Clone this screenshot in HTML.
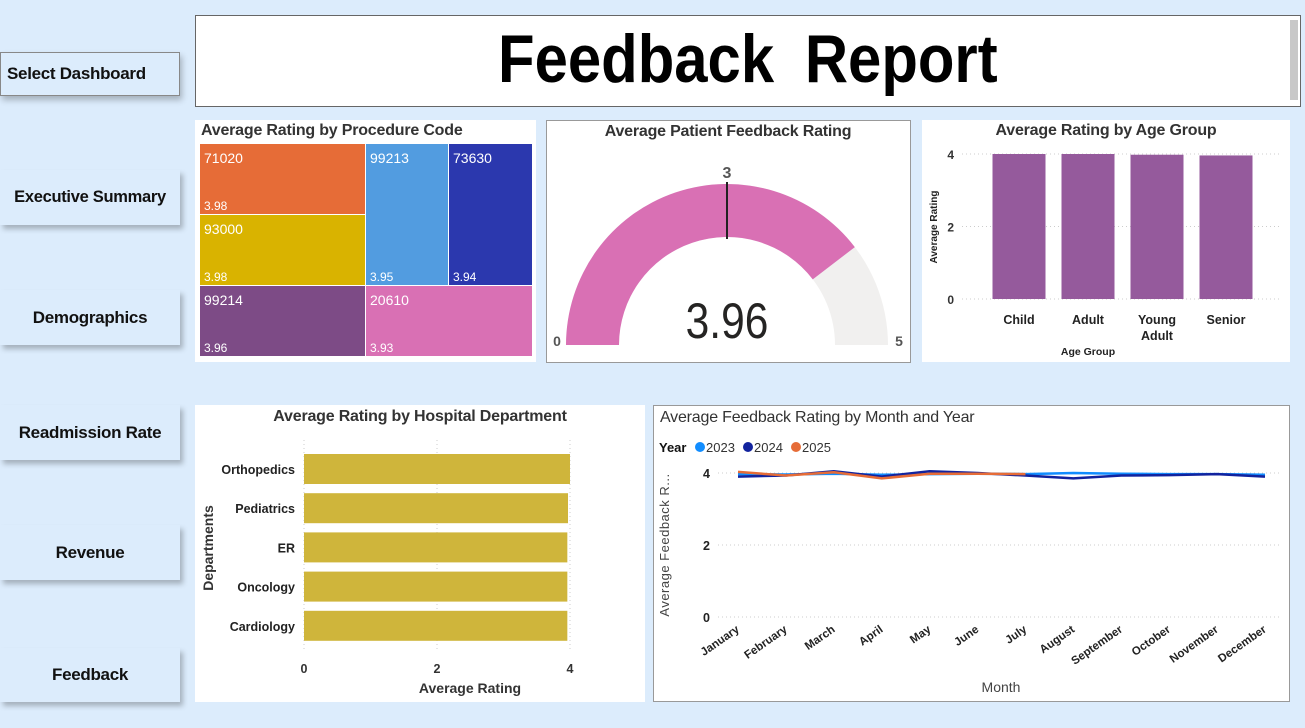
<!DOCTYPE html>
<html><head><meta charset="utf-8">
<style>
*{box-sizing:border-box;margin:0;padding:0}
body{width:1305px;height:728px;background:#dcecfc;font-family:"Liberation Sans",sans-serif;position:relative;overflow:hidden;color:#252423}
.nav{position:absolute;left:0;width:180px;background:#dcecfc;display:flex;align-items:center;justify-content:center;font-weight:bold;font-size:17px;color:#111;box-shadow:3px 4px 5px rgba(0,0,0,0.25);letter-spacing:-0.3px}
.panel{position:absolute;background:#fff}
.ttl{position:absolute;font-size:16px;font-weight:bold;color:#333;letter-spacing:-0.2px}
svg{position:absolute;left:0;top:0}
</style></head><body>
<div class="nav" style="top:52px;height:44px;border:1.5px solid #888;justify-content:flex-start;padding-left:6px;box-shadow:2px 4px 6px rgba(0,0,0,0.25)">Select Dashboard</div>
<div class="nav" style="top:170px;height:55px;font-size:16.5px">Executive Summary</div>
<div class="nav" style="top:290px;height:55px">Demographics</div>
<div class="nav" style="top:405px;height:55px">Readmission Rate</div>
<div class="nav" style="top:525px;height:55px">Revenue</div>
<div class="nav" style="top:648px;height:54px">Feedback</div>

<div class="panel" style="left:195px;top:15px;width:1106px;height:92px;border:1.5px solid #666;display:flex;align-items:center;justify-content:center;color:#000">
<span style="font-weight:bold;font-size:68px;word-spacing:16px;transform:scaleX(0.88);display:inline-block;margin-top:-4px">Feedback Report</span>
<div style="position:absolute;right:2px;top:4px;width:8px;height:80px;background:#c8c8c8"></div></div>

<div class="panel" style="left:195px;top:120px;width:341px;height:242px">
<div class="ttl" style="left:6px;top:2px">Average Rating by Procedure Code</div></div>
<div class="panel" style="left:546px;top:120px;width:365px;height:243px;border:1.5px solid #999">
<div class="ttl" style="left:0;width:362px;text-align:center;top:2px">Average Patient Feedback Rating</div></div>
<div class="panel" style="left:922px;top:120px;width:368px;height:242px">
<div class="ttl" style="left:0;width:368px;text-align:center;top:2px">Average Rating by Age Group</div></div>
<div class="panel" style="left:195px;top:405px;width:450px;height:297px">
<div class="ttl" style="left:0;width:450px;text-align:center;top:3px">Average Rating by Hospital Department</div></div>
<div class="panel" style="left:653px;top:405px;width:637px;height:297px;border:1.5px solid #999">
<div class="ttl" style="left:6px;top:3px;font-weight:normal;font-size:16px">Average Feedback Rating by Month and Year</div></div>

<svg id="s" width="1305" height="728" font-family="Liberation Sans, sans-serif"></svg>
<script>
// Treemap data
const tmCodes=["71020","93000","99213","73630","99214","20610"];
const tmValues=[3.98,3.98,3.95,3.94,3.96,3.93];
const tmColors=["#e66c37","#d9b300","#529ce0","#2b38ae","#7d4b86","#d970b4"];
// Gauge data
const gaugeValue=3.96, gaugeMin=0, gaugeMax=5, gaugeTarget=2.5;
// Age group data
const ageCats=["Child","Adult","Young Adult","Senior"];
const ageValues=[4.0,4.0,3.98,3.96];
const ageTicks=[0,2,4];
// Department data
const deptCats=["Orthopedics","Pediatrics","ER","Oncology","Cardiology"];
const deptValues=[4.0,3.97,3.96,3.96,3.96];
const deptTicks=[0,2,4];
// Line data
const months=["January","February","March","April","May","June","July","August","September","October","November","December"];
const y2023=[3.97,3.96,3.98,3.95,3.97,3.98,3.97,4.0,3.98,3.97,3.97,3.95];
const y2024=[3.9,3.93,4.05,3.9,4.05,4.0,3.93,3.85,3.93,3.94,3.97,3.9];
const y2025=[4.03,3.93,4.02,3.85,3.98,3.98,3.97];
const lineTicks=[0,2,4];

const S=document.getElementById('s');const NS="http://www.w3.org/2000/svg";
function mk(t,a,txt){const e=document.createElementNS(NS,t);for(const k in a)e.setAttribute(k,a[k]);if(txt!==undefined)e.textContent=txt;S.appendChild(e);return e;}

const tmRects=[[200,144,165,70],[200,215,165,70],[366,144,82,141],[449,144,83,141],[200,286,165,70],[366,286,166,70]];
tmCodes.forEach((c,i)=>{const r=tmRects[i];
 let e=mk('rect',{x:r[0],y:r[1],width:r[2],height:r[3],fill:tmColors[i]});
 
 e=mk('text',{x:r[0]+4,y:r[1]+19,fill:'#fff','font-size':14},c);
 
 e=mk('text',{x:r[0]+4,y:r[1]+r[3]-4,fill:'#fff','font-size':12},tmValues[i].toFixed(2));
 
});

const gcx=727,gcy=345,gR=161,gr=108;
function gp(v,R){const a=Math.PI*(1-(v-gaugeMin)/(gaugeMax-gaugeMin));return [gcx+R*Math.cos(a),gcy-R*Math.sin(a)];}
function arc(v0,v1,col,nm){const a=gp(v0,gR),b=gp(v1,gR),c=gp(v1,gr),d=gp(v0,gr);
 const e=mk('path',{d:`M${a[0]},${a[1]} A${gR},${gR} 0 0 1 ${b[0]},${b[1]} L${c[0]},${c[1]} A${gr},${gr} 0 0 0 ${d[0]},${d[1]} Z`,fill:col});
 }
arc(gaugeMin,gaugeMax,'#f1f0ef','gauge-track');arc(gaugeMin,gaugeValue,'#d970b4','gauge-fill');
let t1=gp(gaugeTarget,gR+2),t2=gp(gaugeTarget,gr-2);
let e=mk('line',{x1:t1[0],y1:t1[1],x2:t2[0],y2:t2[1],stroke:'#222','stroke-width':2});
e=mk('text',{x:t1[0],y:t1[1]-4,'text-anchor':'middle','font-size':16,'font-weight':'bold',fill:'#555'},'3');
e=mk('text',{x:gcx,y:gcy-7,'text-anchor':'middle','font-size':50,fill:'#252423',transform:`translate(${gcx},0) scale(0.85,1) translate(${-gcx},0)`},gaugeValue.toFixed(2));
e=mk('text',{x:557,y:346,'text-anchor':'middle','font-size':14,'font-weight':'bold',fill:'#555'},String(gaugeMin));
e=mk('text',{x:899,y:346,'text-anchor':'middle','font-size':14,'font-weight':'bold',fill:'#555'},String(gaugeMax));

const ay=v=>299-v*(299-154)/4;
ageTicks.forEach(t=>{let e=mk('line',{x1:962,x2:1282,y1:ay(t),y2:ay(t),stroke:'#ccc','stroke-dasharray':'1,3'});
 e=mk('text',{x:954,y:ay(t)+5,'text-anchor':'end','font-size':12,'font-weight':'bold',fill:'#333'},String(t));});
ageCats.forEach((c,i)=>{const cx=1019+i*69;
 let e=mk('rect',{x:cx-26.5,y:ay(ageValues[i]),width:53,height:ay(0)-ay(ageValues[i]),fill:'#955a9c'});
 const parts=c.split(' ');parts.forEach((p,j)=>{let t=mk('text',{x:cx,y:324+j*16,'text-anchor':'middle','font-size':12.5,'font-weight':'bold',fill:'#222'},p);});});
e=mk('text',{x:1088,y:355,'text-anchor':'middle','font-size':10.5,'font-weight':'bold',fill:'#222'},'Age Group');
e=mk('text',{x:0,y:0,transform:'translate(937,227) rotate(-90)','text-anchor':'middle','font-size':10,'font-weight':'bold',fill:'#222'},'Average Rating');

const dx=v=>304+v*(570-304)/4;
deptTicks.forEach(t=>{let e=mk('line',{x1:dx(t),x2:dx(t),y1:440,y2:650,stroke:'#ccc','stroke-dasharray':'1,3'});
 e=mk('text',{x:dx(t),y:673,'text-anchor':'middle','font-size':12.5,'font-weight':'bold',fill:'#333'},String(t));});
deptCats.forEach((c,i)=>{const yc=469+i*39.2;
 let e=mk('rect',{x:dx(0),y:yc-15,width:dx(deptValues[i])-dx(0),height:30,fill:'#cfb53b'});
 e=mk('text',{x:295,y:yc+5,'text-anchor':'end','font-size':12.5,'font-weight':'bold',fill:'#222'},c);});
e=mk('text',{x:470,y:693,'text-anchor':'middle','font-size':14,'font-weight':'bold',fill:'#333'},'Average Rating');
e=mk('text',{x:0,y:0,transform:'translate(213,548) rotate(-90)','text-anchor':'middle','font-size':14,'font-weight':'bold',fill:'#333'},'Departments');

const lx=i=>738+i*(1265-738)/11, ly=v=>617-v*(617-473)/4;
lineTicks.forEach(t=>{let e=mk('line',{x1:718,x2:1280,y1:ly(t),y2:ly(t),stroke:'#ccc','stroke-dasharray':'1,3'});
 e=mk('text',{x:710,y:ly(t)+5,'text-anchor':'end','font-size':12.5,'font-weight':'bold',fill:'#222'},String(t));});
months.forEach((m,i)=>{let e=mk('text',{x:0,y:0,transform:`translate(${lx(i)+2},${631}) rotate(-35)`,'text-anchor':'end','font-size':11.5,'font-weight':'bold',fill:'#222'},m);});
function series(vals,col,nm){const d=vals.map((v,i)=>(i?'L':'M')+lx(i)+','+ly(v)).join(' ');
 const e=mk('path',{d,fill:'none',stroke:col,'stroke-width':2.5});}
series(y2023,'#118dff','line-2023');series(y2024,'#12239e','line-2024');series(y2025,'#e66c37','line-2025');
e=mk('text',{x:1001,y:692,'text-anchor':'middle','font-size':14,fill:'#444'},'Month');
e=mk('text',{x:0,y:0,transform:'translate(669,545) rotate(-90)','text-anchor':'middle','font-size':13,fill:'#444','letter-spacing':'0.5'},'Average Feedback R...');
e=mk('text',{x:659,y:452,'font-size':13,'font-weight':'bold',fill:'#111'},'Year');
[["2023","#118dff",700],["2024","#12239e",748],["2025","#e66c37",796]].forEach(l=>{
 let c=mk('circle',{cx:l[2],cy:447,r:5,fill:l[1]});
 let t=mk('text',{x:l[2]+6,y:452,'font-size':13,fill:'#333'},l[0]);});
</script>
</body></html>
